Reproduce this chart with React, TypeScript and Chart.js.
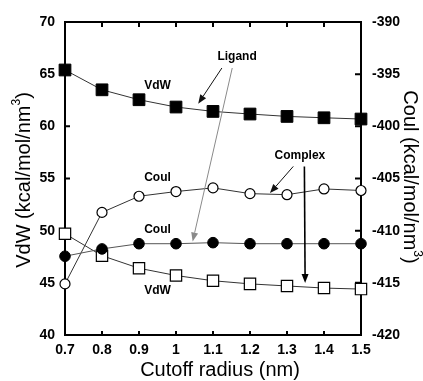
import React, { useEffect, useRef } from 'react';
import { Chart, registerables } from 'chart.js';

Chart.register(...registerables);

// ---- data ----
const cutoff = [0.7, 0.8, 0.9, 1.0, 1.1, 1.2, 1.3, 1.4, 1.5];
const xTickLabels = ['0.7', '0.8', '0.9', '1', '1.1', '1.2', '1.3', '1.4', '1.5'];
const vdwTicks = [40, 45, 50, 55, 60, 65, 70];
const coulTicks = [-420, -415, -410, -405, -400, -395, -390];

// left axis (VdW)
const ligandVdw = [65.4, 63.5, 62.55, 61.85, 61.43, 61.18, 60.95, 60.82, 60.7];
const complexVdw = [49.7, 47.6, 46.4, 45.7, 45.2, 44.9, 44.7, 44.5, 44.4];
// right axis (Coul)
const ligandCoul = [-412.45, -411.75, -411.25, -411.25, -411.15, -411.25, -411.25, -411.25, -411.25];
const complexCoul = [-415.1, -408.25, -406.7, -406.25, -405.9, -406.45, -406.55, -406.0, -406.15];

// annotations (data coordinates on x / left axis)
const noteTexts = ['Ligand', 'VdW', 'Complex', 'Coul', 'Coul', 'VdW'];
const noteX = [1.165, 0.95, 1.335, 0.95, 0.95, 0.95];
const noteY = [66.67, 63.94, 57.23, 55.12, 50.13, 44.24];

const arrowFromX = [1.124, 1.152, 1.317, 1.347];
const arrowFromY = [65.59, 65.59, 56.16, 56.16];
const arrowToX = [1.06, 1.045, 1.254, 1.349];
const arrowToY = [62.17, 48.96, 53.6, 44.98];
const arrowColors = ['#111', '#8a8a8a', '#111', '#000'];
const arrowWidths = [1, 1, 1, 1.6];

const FONT = "'Liberation Sans', Arial, Helvetica, sans-serif";

type Part = { text: string; sup?: boolean };

function drawRich(ctx: CanvasRenderingContext2D, parts: Part[], cx: number, cy: number, angle: number, size: number) {
  ctx.save();
  ctx.translate(cx, cy);
  ctx.rotate(angle);
  const big = `${size}px ${FONT}`;
  const small = `${Math.round(size * 0.62)}px ${FONT}`;
  const widths = parts.map((p) => {
    ctx.font = p.sup ? small : big;
    return ctx.measureText(p.text).width;
  });
  const total = widths.reduce((a, b) => a + b, 0);
  let x = -total / 2;
  ctx.textBaseline = 'middle';
  ctx.textAlign = 'left';
  ctx.fillStyle = '#000';
  parts.forEach((p, i) => {
    ctx.font = p.sup ? small : big;
    ctx.fillText(p.text, x, p.sup ? -size * 0.38 : 0);
    x += widths[i];
  });
  ctx.restore();
}

const framePlugin = {
  id: 'frame',
  beforeDatasetsDraw(chart: any) {
    const { ctx, chartArea } = chart;
    const { left, right, top, bottom } = chartArea;
    const xs = chart.scales.x;
    const y = chart.scales.y;
    const y2 = chart.scales.y2;
    ctx.save();
    ctx.strokeStyle = '#000';
    ctx.lineWidth = 2;
    ctx.strokeRect(left, top, right - left, bottom - top);
    ctx.beginPath();
    cutoff.forEach((v, i) => {
      if (i === 0 || i === cutoff.length - 1) return;
      const px = xs.getPixelForValue(v);
      ctx.moveTo(px, bottom);
      ctx.lineTo(px, bottom - 4);
      ctx.moveTo(px, top);
      ctx.lineTo(px, top + 5);
    });
    vdwTicks.forEach((v, i) => {
      if (i === 0 || i === vdwTicks.length - 1) return;
      const py = y.getPixelForValue(v);
      ctx.moveTo(left, py);
      ctx.lineTo(left + 5, py);
    });
    coulTicks.forEach((v, i) => {
      if (i === 0 || i === coulTicks.length - 1) return;
      const py = y2.getPixelForValue(v);
      ctx.moveTo(right, py);
      ctx.lineTo(right - 6, py);
    });
    ctx.stroke();
    ctx.restore();
  },
  afterDraw(chart: any) {
    const { ctx } = chart;
    const xs = chart.scales.x;
    const y = chart.scales.y;
    ctx.save();
    // annotation arrows
    for (let i = 0; i < arrowFromX.length; i++) {
      const x1 = xs.getPixelForValue(arrowFromX[i]);
      const y1 = y.getPixelForValue(arrowFromY[i]);
      const x2 = xs.getPixelForValue(arrowToX[i]);
      const y2p = y.getPixelForValue(arrowToY[i]);
      const ang = Math.atan2(y2p - y1, x2 - x1);
      const hl = 9;
      const hw = 3.5;
      const bx = x2 - hl * Math.cos(ang);
      const by = y2p - hl * Math.sin(ang);
      ctx.strokeStyle = arrowColors[i];
      ctx.fillStyle = arrowColors[i];
      ctx.lineWidth = arrowWidths[i];
      ctx.beginPath();
      ctx.moveTo(x1, y1);
      ctx.lineTo(bx, by);
      ctx.stroke();
      ctx.beginPath();
      ctx.moveTo(x2, y2p);
      ctx.lineTo(bx + hw * Math.sin(ang), by - hw * Math.cos(ang));
      ctx.lineTo(bx - hw * Math.sin(ang), by + hw * Math.cos(ang));
      ctx.closePath();
      ctx.fill();
    }
    // annotation texts
    ctx.fillStyle = '#000';
    ctx.font = `bold 12px ${FONT}`;
    ctx.textAlign = 'center';
    ctx.textBaseline = 'middle';
    noteTexts.forEach((t, i) => {
      ctx.fillText(t, xs.getPixelForValue(noteX[i]), y.getPixelForValue(noteY[i]));
    });
    ctx.restore();
    // axis titles
    ctx.save();
    ctx.fillStyle = '#000';
    ctx.font = `20px ${FONT}`;
    ctx.textAlign = 'center';
    ctx.textBaseline = 'middle';
    ctx.fillText('Cutoff radius (nm)', 220, 370);
    ctx.restore();
    drawRich(ctx, [{ text: 'VdW (kcal/mol/nm' }, { text: '3', sup: true }, { text: ')' }], 24, 180, -Math.PI / 2, 20);
    drawRich(ctx, [{ text: 'Coul (kcal/mol/nm' }, { text: '3', sup: true }, { text: ')' }], 410, 177, Math.PI / 2, 20);
  },
};

export default function App() {
  const ref = useRef<HTMLCanvasElement | null>(null);
  useEffect(() => {
    if (!ref.current) return;
    const tickFont = { family: FONT, size: 14, weight: 'bold' as const };
    const chart = new Chart(ref.current, {
      type: 'line',
      data: {
        datasets: [
          {
            label: 'Ligand Coul',
            data: cutoff.map((x, i) => ({ x, y: ligandCoul[i] })),
            yAxisID: 'y2',
            borderColor: '#555',
            borderWidth: 1,
            pointStyle: 'circle',
            pointRadius: 5.3,
            pointBackgroundColor: '#000',
            pointBorderColor: '#000',
            pointBorderWidth: 1,
            clip: false as any,
            order: 1,
          },
          {
            label: 'Complex Coul',
            data: cutoff.map((x, i) => ({ x, y: complexCoul[i] })),
            yAxisID: 'y2',
            borderColor: '#333',
            borderWidth: 1,
            pointStyle: 'circle',
            pointRadius: 5,
            pointBackgroundColor: '#fff',
            pointBorderColor: '#000',
            pointBorderWidth: 1.2,
            clip: false as any,
            order: 2,
          },
          {
            label: 'Ligand VdW',
            data: cutoff.map((x, i) => ({ x, y: ligandVdw[i] })),
            yAxisID: 'y',
            borderColor: '#333',
            borderWidth: 1,
            pointStyle: 'rect',
            pointRadius: 8.3,
            pointBackgroundColor: '#000',
            pointBorderColor: '#000',
            pointBorderWidth: 1,
            clip: false as any,
            order: 3,
          },
          {
            label: 'Complex VdW',
            data: cutoff.map((x, i) => ({ x, y: complexVdw[i] })),
            yAxisID: 'y',
            borderColor: '#333',
            borderWidth: 1,
            pointStyle: 'rect',
            pointRadius: 8,
            pointBackgroundColor: '#fff',
            pointBorderColor: '#000',
            pointBorderWidth: 1.2,
            clip: false as any,
            order: 4,
          },
        ],
      },
      options: {
        responsive: false,
        animation: false,
        layout: { padding: { top: 22, left: 0, right: 0, bottom: 0 } },
        plugins: { legend: { display: false }, tooltip: { enabled: false } },
        scales: {
          x: {
            type: 'linear',
            min: 0.7,
            max: 1.5,
            afterBuildTicks: (s: any) => {
              s.ticks = cutoff.map((v) => ({ value: v }));
            },
            afterFit: (s: any) => {
              s.height = 46;
            },
            grid: { display: false, drawTicks: false },
            border: { display: false },
            ticks: {
              color: '#000',
              font: tickFont,
              padding: 7,
              maxRotation: 0,
              autoSkip: false,
              callback: (_v: any, i: number) => xTickLabels[i],
            },
          },
          y: {
            type: 'linear',
            position: 'left',
            min: 40,
            max: 70,
            afterBuildTicks: (s: any) => {
              s.ticks = vdwTicks.map((v) => ({ value: v }));
            },
            afterFit: (s: any) => {
              s.width = 65;
            },
            grid: { display: false, drawTicks: false },
            border: { display: false },
            ticks: { color: '#000', font: tickFont, padding: 10, callback: (v: any) => String(v) },
          },
          y2: {
            type: 'linear',
            position: 'right',
            min: -420,
            max: -390,
            afterBuildTicks: (s: any) => {
              s.ticks = coulTicks.map((v) => ({ value: v }));
            },
            afterFit: (s: any) => {
              s.width = 62;
            },
            grid: { display: false, drawTicks: false },
            border: { display: false },
            ticks: { color: '#000', font: tickFont, padding: 11, callback: (v: any) => String(v) },
          },
        },
      } as any,
      plugins: [framePlugin],
    });
    return () => chart.destroy();
  }, []);
  return (
    <div style={{ position: 'absolute', left: 0, top: 0, width: 423, height: 381, background: '#fff' }}>
      <canvas ref={ref} width={423} height={381} style={{ width: 423, height: 381 }} />
    </div>
  );
}
